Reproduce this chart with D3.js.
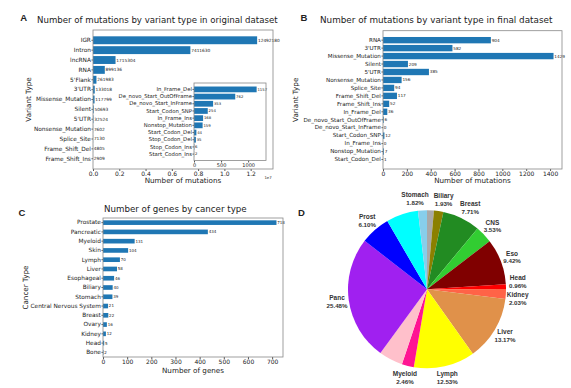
<!DOCTYPE html>
<html>
<head>
<meta charset="utf-8">
<script src="https://cdn.jsdelivr.net/npm/d3@7"></script>
<style>
  body { margin: 0; background: #fff; }
  text { font-family: "DejaVu Sans", sans-serif; fill: #222; }
</style>
</head>
<body>
<svg id="fig" width="571" height="388"></svg>
<script>
// A - original dataset
const origTypes = ["IGR", "Intron", "lncRNA", "RNA", "5'Flank", "3'UTR", "Missense_Mutation", "Silent",
    "5'UTR", "Nonsense_Mutation", "Splice_Site", "Frame_Shift_Del", "Frame_Shift_Ins"]
const origCounts = [12492180, 7411630, 1715304, 899136, 261983, 133018, 117799, 50693, 32524, 7602, 7130, 4805, 2909]
const origTicks = [0, 2e6, 4e6, 6e6, 8e6, 10e6, 12e6]

// A inset - the rare types
const rareTypes = ["In_Frame_Del", "De_novo_Start_OutOfFrame", "De_novo_Start_InFrame", "Start_Codon_SNP",
    "In_Frame_Ins", "Nonstop_Mutation", "Start_Codon_Del", "Stop_Codon_Del", "Stop_Codon_Ins", "Start_Codon_Ins"]
const rareCounts = [1157, 762, 353, 254, 168, 159, 44, 35, 6, 2]
const rareTicks = [0, 500, 1000]

// B - final dataset
const finalTypes = ["RNA", "3'UTR", "Missense_Mutation", "Silent", "5'UTR", "Nonsense_Mutation", "Splice_Site",
    "Frame_Shift_Del", "Frame_Shift_Ins", "In_Frame_Del", "De_novo_Start_OutOfFrame", "De_novo_Start_InFrame",
    "Start_Codon_SNP", "In_Frame_Ins", "Nonstop_Mutation", "Start_Codon_Del"]
const finalCounts = [904, 582, 1429, 209, 385, 156, 94, 117, 52, 36, 6, 0, 12, 0, 7, 1]
const finalTicks = [0, 200, 400, 600, 800, 1000, 1200, 1400]

// C - genes by cancer type
const cancerTypes = ["Prostate", "Pancreatic", "Myeloid", "Skin", "Lymph", "Liver", "Esophageal", "Biliary",
    "Stomach", "Central Nervous System", "Breast", "Ovary", "Kidney", "Head", "Bone"]
const geneCounts = [718, 434, 131, 104, 70, 58, 46, 40, 39, 21, 22, 16, 12, 5, 2]
const geneTicks = [0, 100, 200, 300, 400, 500, 600, 700]

// D - pie (clockwise from 12 o'clock), "" = slice without a label
const pieNames = ["", "Biliary", "Breast", "CNS", "Eso", "Head", "Kidney", "Liver", "Lymph", "Myeloid", "",
    "Panc", "Prost", "", "Stomach"]
const pieShares = [1.40, 1.93, 7.71, 3.53, 9.42, 0.96, 2.03, 13.17, 12.53, 2.46, 4.90, 25.48, 6.10, 6.56, 1.82]
const pieColors = ["#a9a9a9", "#8b8000", "#228b22", "#32cd32", "#800000", "#ff0000", "#ff6347", "#e0914a",
    "#ffff00", "#ff1493", "#ffc0cb", "#a020f0", "#0000ff", "#00ffff", "#87ceeb"]

const barColor = "#1f77b4"
const spineColor = "#888"

const svg = d3.select("#fig")
svg.append("rect").attr("width", 571).attr("height", 388).attr("fill", "#fff")

function barPanel(cfg) {
    let g = svg.append("g")
    let x = d3.scaleLinear().domain([0, cfg.xMax]).range([cfg.left, cfg.right])
    let y = d3.scaleBand().domain(cfg.cats).range([cfg.top, cfg.bottom])
        .paddingInner(cfg.inner).paddingOuter(cfg.outer)

    g.append("rect")
        .attr("x", cfg.left).attr("y", cfg.top)
        .attr("width", cfg.right - cfg.left).attr("height", cfg.bottom - cfg.top)
        .attr("fill", "#fff")

    g.selectAll("rect.bar")
        .data(cfg.vals)
        .join("rect")
        .attr("class", "bar")
        .attr("x", x(0))
        .attr("y", (d, i) => y(cfg.cats[i]))
        .attr("width", d => x(d) - x(0))
        .attr("height", y.bandwidth())
        .attr("fill", barColor)

    // value labels at the end of each bar
    g.selectAll("text.val")
        .data(cfg.vals)
        .join("text")
        .attr("class", "val")
        .attr("x", d => x(d) + 0.8)
        .attr("y", (d, i) => y(cfg.cats[i]) + y.bandwidth() / 2)
        .attr("dy", "0.35em")
        .attr("font-size", cfg.valFont)
        .text(d => d)

    let xa = g.append("g")
        .attr("transform", `translate(0,${cfg.bottom})`)
        .call(d3.axisBottom(x).tickValues(cfg.ticks).tickFormat(cfg.fmt).tickSize(2).tickPadding(0.5))
    xa.select(".domain").remove()
    xa.attr("font-size", cfg.tickFont).attr("font-family", "DejaVu Sans").attr("color", "#555")
    xa.selectAll("text").style("fill", "#222")

    let ya = g.append("g")
        .attr("transform", `translate(${cfg.left},0)`)
        .call(d3.axisLeft(y).tickSize(1.5).tickPadding(0.6))
    ya.select(".domain").remove()
    ya.attr("font-size", cfg.catFont).attr("font-family", "DejaVu Sans").attr("color", "#555")
    ya.selectAll("text").style("fill", "#222")

    g.append("rect")
        .attr("x", cfg.left).attr("y", cfg.top)
        .attr("width", cfg.right - cfg.left).attr("height", cfg.bottom - cfg.top)
        .attr("fill", "none")
        .attr("stroke", spineColor)
        .attr("stroke-width", 0.8)

    return g
}

function defaultOuter(n) {
    // matplotlib's 5% margin around the bars
    return 0.05 * (n - 0.2)
}

function addText(txt, x, y, size, opts = {}) {
    let t = svg.append("text")
        .attr("x", x).attr("y", y)
        .attr("font-size", size)
        .attr("text-anchor", opts.anchor || "start")
        .text(txt)
    if (opts.bold) t.attr("font-weight", "bold")
    if (opts.family) t.style("font-family", opts.family)
    if (opts.rotate) t.attr("transform", `rotate(-90,${x},${y})`)
    return t
}

// ---------- A ----------
barPanel({
    cats: origTypes, vals: origCounts, xMax: 1.37e7,
    left: 93, right: 273, top: 30, bottom: 169,
    inner: 0.2, outer: defaultOuter(origTypes.length),
    ticks: origTicks, fmt: d => (d / 1e7).toFixed(1),
    tickFont: 6, catFont: 5.8, valFont: 4.3
})
barPanel({
    cats: rareTypes, vals: rareCounts, xMax: 1330,
    left: 194, right: 266, top: 83, bottom: 160.5,
    inner: 0.2, outer: defaultOuter(rareTypes.length),
    ticks: rareTicks, fmt: d => d,
    tickFont: 5, catFont: 5.3, valFont: 3.8
})
addText("A", 23.7, 21, 9.5, { anchor: "middle", bold: true, family: "Liberation Sans" })
addText("Number of mutations by variant type in original dataset", 37, 23, 8.6)
addText("Number of mutations", 183, 182.5, 7.2, { anchor: "middle" })
addText("Variant Type", 31, 99.5, 7.2, { anchor: "middle", rotate: true })
addText("1e7", 268, 179, 3.8, { anchor: "middle" })

// ---------- B ----------
barPanel({
    cats: finalTypes, vals: finalCounts, xMax: 1500,
    left: 383, right: 562, top: 30.7, bottom: 169,
    inner: 0.2, outer: defaultOuter(finalTypes.length),
    ticks: finalTicks, fmt: d => d,
    tickFont: 6, catFont: 5.6, valFont: 4.2
})
addText("B", 304, 21, 9.5, { anchor: "middle", bold: true, family: "Liberation Sans" })
addText("Number of mutations by variant type in final dataset", 320, 22.7, 8.8)
addText("Number of mutations", 472.5, 182.5, 7.2, { anchor: "middle" })
addText("Variant Type", 298.5, 99.8, 7.2, { anchor: "middle", rotate: true })

// ---------- C ----------
barPanel({
    cats: cancerTypes, vals: geneCounts, xMax: 745,
    left: 103, right: 283, top: 218, bottom: 357,
    inner: 0.5, outer: 0.25,
    ticks: geneTicks, fmt: d => d,
    tickFont: 6, catFont: 5.8, valFont: 4
})
addText("C", 22, 215.5, 9.5, { anchor: "middle", bold: true, family: "Liberation Sans" })
addText("Number of genes by cancer type", 175.3, 211.5, 8.7, { anchor: "middle" })
addText("Number of genes", 193, 372.6, 7.2, { anchor: "middle" })
addText("Cancer Type", 27.5, 287.5, 7.2, { anchor: "middle", rotate: true })

// ---------- D ----------
addText("D", 301.5, 215.5, 9.5, { anchor: "middle", bold: true, family: "Liberation Sans" })

const pieCx = 427, pieCy = 289.3, pieR = 79
const pieG = svg.append("g").attr("transform", `translate(${pieCx},${pieCy})`)
const arcs = d3.pie().sort(null)(pieShares)
const arc = d3.arc().innerRadius(0).outerRadius(pieR)
const labelArc = d3.arc().innerRadius(pieR * 1.15).outerRadius(pieR * 1.15)

pieG.selectAll("path")
    .data(arcs)
    .join("path")
    .attr("d", arc)
    .attr("fill", (d, i) => pieColors[i])

// label boxes, nudged apart when they overlap
// (sideways at the top/bottom of the pie, up/down at its sides)
const labelFont = 6.5
let boxes = arcs
    .map((d, i) => ({ name: pieNames[i], pct: pieShares[i].toFixed(2) + "%", c: labelArc.centroid(d) }))
    .filter(b => b.name !== "")
    .map(b => ({ ...b, x: b.c[0], y: b.c[1], w: Math.max(b.name.length, b.pct.length) * labelFont * 0.56, h: 16 }))

for (let it = 0; it < 30; it++) {
    for (let i = 0; i < boxes.length; i++) {
        for (let j = i + 1; j < boxes.length; j++) {
            let a = boxes[i], b = boxes[j]
            let ox = (a.w + b.w) / 2 + 3 - Math.abs(a.x - b.x)
            let oy = (a.h + b.h) / 2 + 1 - Math.abs(a.y - b.y)
            if (ox > 0 && oy > 0) {
                let mx = (a.x + b.x) / 2, my = (a.y + b.y) / 2
                if (Math.abs(my) > Math.abs(mx)) {
                    let s = (a.x < b.x ? -1 : 1) * ox / 2
                    a.x += s; b.x -= s
                } else {
                    let s = (a.y < b.y ? -1 : 1) * oy / 2
                    a.y += s; b.y -= s
                }
            }
        }
    }
}

let labels = pieG.selectAll("g.lab")
    .data(boxes)
    .join("g")
    .attr("class", "lab")
    .attr("transform", d => `translate(${d.x},${d.y})`)
labels.append("text")
    .attr("y", -1.7)
    .attr("text-anchor", "middle")
    .attr("font-size", labelFont)
    .attr("font-weight", "bold")
    .style("font-family", "Liberation Sans")
    .style("fill", "#333")
    .text(d => d.name)
labels.append("text")
    .attr("y", 6.1)
    .attr("text-anchor", "middle")
    .attr("font-size", labelFont - 0.3)
    .attr("font-weight", "bold")
    .style("font-family", "Liberation Sans")
    .style("fill", "#333")
    .text(d => d.pct)
</script>
</body>
</html>
